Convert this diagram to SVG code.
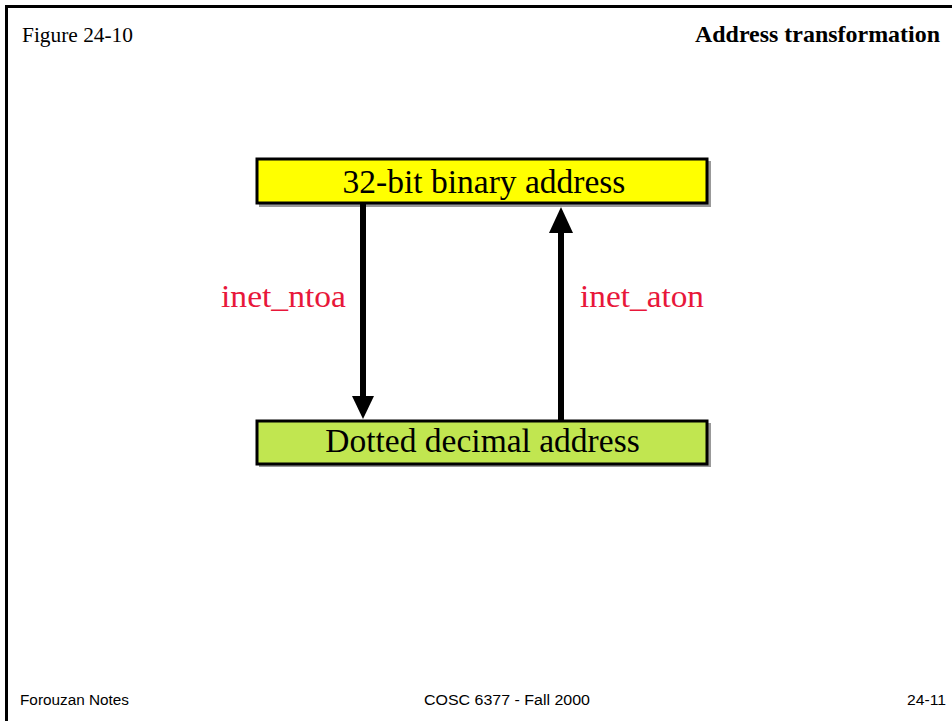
<svg xmlns="http://www.w3.org/2000/svg" width="952" height="721" viewBox="0 0 952 721">
<style>
.t{font-family:"Liberation Serif","Times New Roman",serif;}
.f{font-family:"Liberation Sans",Arial,sans-serif;font-size:15.5px;fill:#000;}
.box{stroke:#000;stroke-width:3;}
.lbl{font-family:"Liberation Serif","Times New Roman",serif;font-size:32px;fill:#e8173a;}
.node{font-family:"Liberation Serif","Times New Roman",serif;font-size:33.5px;fill:#000;text-anchor:middle;}
</style>
<rect width="952" height="721" fill="#fff"/>
<path d="M6.5,721 V6.5 H952" fill="none" stroke="#000" stroke-width="3"/>
<text class="t" x="22" y="42" font-size="21" textLength="111" lengthAdjust="spacingAndGlyphs">Figure 24-10</text>
<text class="t" x="695" y="42" font-size="22.5" font-weight="bold" textLength="245" lengthAdjust="spacingAndGlyphs">Address transformation</text>
<g id="n1">
<rect x="259" y="161" width="452" height="46" fill="#999"/>
<rect class="box" x="257" y="159" width="450" height="44" fill="#ffff00"/>
<text class="node" x="484" y="193">32-bit binary address</text>
</g>
<g id="n2">
<rect x="259" y="423" width="452" height="44" fill="#999"/>
<rect class="box" x="257" y="421" width="450" height="43" fill="#c1e650"/>
<text class="node" x="482.5" y="452">Dotted decimal address</text>
</g>
<g id="connectors">
<line x1="363" y1="204" x2="363" y2="398" stroke="#000" stroke-width="6"/>
<path d="M352,396 L374,396 L363,419 z" fill="#000"/>
<line x1="561" y1="420" x2="561" y2="230" stroke="#000" stroke-width="6"/>
<path d="M549,233 L573,233 L561,207 z" fill="#000"/>
</g>
<text class="lbl" x="221" y="307" textLength="125" lengthAdjust="spacingAndGlyphs">inet_ntoa</text>
<text class="lbl" x="580" y="307" textLength="124" lengthAdjust="spacingAndGlyphs">inet_aton</text>
<text class="f" x="20" y="705" textLength="109" lengthAdjust="spacingAndGlyphs">Forouzan Notes</text>
<text class="f" x="424" y="705" textLength="166" lengthAdjust="spacingAndGlyphs">COSC 6377 - Fall 2000</text>
<text class="f" x="907" y="705" textLength="39" lengthAdjust="spacingAndGlyphs">24-11</text>
</svg>
